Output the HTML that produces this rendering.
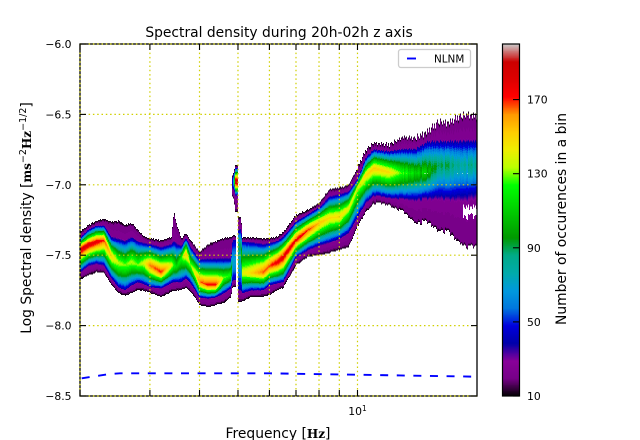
<!DOCTYPE html>
<html lang="en">
<head>
<meta charset="utf-8">
<title>Spectral density during 20h-02h z axis</title>
<style>
  html,body{margin:0;padding:0;background:#fff;}
  body{width:640px;height:440px;overflow:hidden;}
  svg{display:block;}
  text{font-family:"DejaVu Sans","Liberation Sans",sans-serif;fill:#000;}
  .unit{font-family:"DejaVu Serif","Liberation Serif",serif;font-weight:bold;}
</style>
</head>
<body>
<svg id="figure" xmlns="http://www.w3.org/2000/svg" width="640" height="440" viewBox="0 0 640 440">
  <g id="heatmap" shape-rendering="crispEdges"></g>
  <path id="nlnm" fill="none" stroke="#0000ff" stroke-width="1.9" stroke-dasharray="8 8.6"></path>
  <rect x="80" y="44" width="397" height="352" fill="none" stroke="#000" stroke-width="1.3"></rect>
  <g id="grid"></g>
  <g id="ticks"></g>
  <g id="tick-labels"></g>

  <text x="279" y="37" font-size="13.85" text-anchor="middle">Spectral density during 20h-02h z axis</text>
  <text x="278" y="438" font-size="13.85" text-anchor="middle">Frequency [<tspan class="unit" font-size="12">Hz</tspan>]</text>
  <text transform="translate(31,218) rotate(-90)" font-size="13.85" text-anchor="middle">Log Spectral density [<tspan class="unit" font-size="12">ms</tspan><tspan dy="-5" font-size="9.5">−2</tspan><tspan class="unit" dy="5" font-size="12">Hz</tspan><tspan dy="-5" font-size="9.5">−1/2</tspan><tspan dy="5">]</tspan></text>

  <g>
    <rect x="398.5" y="49.5" width="72" height="18" rx="2.5" fill="#fff" stroke="#cccccc" stroke-width="1.3"></rect>
    <line x1="407" y1="58.5" x2="416" y2="58.5" stroke="#0000ff" stroke-width="1.9"></line>
    <text x="434" y="62.5" font-size="10.4">NLNM</text>
  </g>

  <g id="colorbar" shape-rendering="crispEdges"></g>
  <rect x="502.5" y="44" width="17" height="352" fill="none" stroke="#000" stroke-width="1.2"></rect>
  <g id="colorbar-ticks"></g>
  <text transform="translate(566,219) rotate(-90)" font-size="13.85" text-anchor="middle">Number of occurences in a bin</text>
</svg>

<script>
// ---- Chart data (frequency in Hz, density values in log PSD, peak in counts) ----
const freqs = [2.0,2.1,2.2,2.3,2.4,2.5,2.6,2.7,2.8,2.9,3.0,3.2,3.4,3.45,3.5,3.6,3.7,3.8,3.9,4.0,4.2,4.4,4.6,4.8,4.85,4.93,5.0,5.1,5.11,5.4,5.8,6.0,6.3,6.5,7,7.5,8,8.5,9,9.5,10,10.5,11,12,13,14,15,16,17,18,19,20];
const topEdge = [-7.335,-7.286,-7.257,-7.243,-7.264,-7.257,-7.286,-7.271,-7.321,-7.364,-7.378,-7.392,-7.371,-7.193,-7.271,-7.378,-7.342,-7.392,-7.435,-7.477,-7.428,-7.399,-7.378,-7.371,-7.357,-7.357,-7.229,-7.229,-7.371,-7.371,-7.378,-7.378,-7.364,-7.335,-7.214,-7.179,-7.129,-7.030,-7.023,-7.001,-6.881,-6.753,-6.703,-6.717,-6.661,-6.668,-6.625,-6.554,-6.561,-6.518,-6.504,-6.518];
const upperShoulder = [-7.378,-7.321,-7.293,-7.293,-7.378,-7.392,-7.406,-7.378,-7.406,-7.420,-7.428,-7.449,-7.428,-7.413,-7.428,-7.442,-7.378,-7.449,-7.491,-7.534,-7.534,-7.534,-7.534,-7.534,-7.392,-7.392,-7.321,-7.321,-7.406,-7.413,-7.428,-7.420,-7.399,-7.371,-7.264,-7.214,-7.165,-7.087,-7.072,-7.051,-6.966,-6.810,-6.753,-6.767,-6.753,-6.753,-6.703,-6.703,-6.703,-6.703,-6.703,-6.703];
const ridge = [-7.463,-7.428,-7.406,-7.392,-7.506,-7.555,-7.570,-7.548,-7.570,-7.555,-7.570,-7.619,-7.570,-7.570,-7.584,-7.520,-7.484,-7.570,-7.626,-7.690,-7.712,-7.712,-7.662,-7.641,-7.548,-7.548,-7.428,-7.428,-7.626,-7.626,-7.619,-7.577,-7.548,-7.513,-7.392,-7.321,-7.271,-7.236,-7.229,-7.165,-7.016,-6.930,-6.881,-6.909,-6.916,-6.916,-6.909,-6.859,-6.859,-6.859,-6.859,-6.859];
const lowerShoulder = [-7.619,-7.570,-7.555,-7.570,-7.662,-7.726,-7.747,-7.712,-7.690,-7.705,-7.726,-7.733,-7.697,-7.690,-7.690,-7.690,-7.662,-7.697,-7.747,-7.797,-7.804,-7.797,-7.768,-7.733,-7.676,-7.676,-7.747,-7.747,-7.768,-7.747,-7.747,-7.712,-7.697,-7.690,-7.513,-7.463,-7.428,-7.406,-7.378,-7.335,-7.229,-7.122,-7.072,-7.087,-7.094,-7.094,-7.087,-7.072,-7.087,-7.072,-7.072,-7.058];
const bottomEdge = [-7.676,-7.641,-7.619,-7.626,-7.712,-7.768,-7.790,-7.768,-7.747,-7.754,-7.768,-7.797,-7.761,-7.754,-7.754,-7.747,-7.733,-7.761,-7.804,-7.854,-7.868,-7.854,-7.839,-7.797,-7.726,-7.726,-7.832,-7.832,-7.832,-7.797,-7.797,-7.783,-7.747,-7.733,-7.570,-7.513,-7.499,-7.484,-7.463,-7.442,-7.300,-7.193,-7.129,-7.143,-7.193,-7.271,-7.271,-7.321,-7.342,-7.406,-7.449,-7.442];
const peakCount = [185,182,180,170,150,135,130,135,130,140,165,172,140,125,115,125,155,130,145,165,172,172,130,125,70,70,90,90,140,150,168,170,178,180,178,170,155,148,148,142,138,150,152,148,125,115,105,92,85,82,80,80];

// Isolated patch near 5 Hz
const islandFreqs = [4.84,4.89,4.92,5.0];
const islandTop = [-6.94,-6.90,-6.859,-6.859];
const islandUpper = [-6.95,-6.92,-6.88,-6.88];
const islandRidge = [-6.98,-6.98,-6.98,-6.98];
const islandLower = [-7.02,-7.03,-7.072,-7.072];
const islandBottom = [-7.08,-7.108,-7.193,-7.193];
const islandPeak = [45,90,195,195];

const emptyFreqRange = [4.94,4.995];
const emptyPocket = [18.4,20,-7.158,-7.229];
const edgeRoughness = [0.012,-0.021,0.034,-0.008,0.026,-0.03,0.005,0.041,-0.017,0.022,-0.036,0.014,0.03,-0.012,-0.026,0.038,0.003,-0.02,0.018,-0.005,0.028,-0.033,0.009];

// NLNM reference curve
const nlnmFreqs = [2.02,2.25,2.38,2.52,6,7,10,12.8,20];
const nlnmValues = [-8.374,-8.354,-8.344,-8.339,-8.339,-8.342,-8.349,-8.354,-8.363];

// Axis ticks
const xGridFreqs = [2,3,4,5,6,7,8,9,10];
const yTickValues = [-6,-6.5,-7,-7.5,-8,-8.5];
const yTickLabels = ["−6.0","−6.5","−7.0","−7.5","−8.0","−8.5"];
const colorbarTicks = [10,50,90,130,170];
const colorbarLabels = ["10","50","90","130","170"];

// Colormap (nipy_spectral)
const cmapColors = [[0,0,0],[119,0,136],[136,0,153],[0,0,170],[0,0,221],[0,119,221],[0,153,221],[0,170,170],[0,170,136],[0,153,0],[0,187,0],[0,221,0],[0,255,0],[187,255,0],[238,238,0],[255,204,0],[255,153,0],[255,0,0],[221,0,0],[204,0,0],[204,204,204]];
const countMin = 10;
const countMax = 200;

// ---- Scales ----
const NS = "http://www.w3.org/2000/svg";
const plotLeft = 80, plotRight = 477, plotTop = 44, plotBottom = 396;
const decadeSpan = Math.log10(20/2);
function xScale(f){ return plotLeft + (plotRight-plotLeft)*Math.log10(f/2)/decadeSpan; }
function xInvert(x){ return 2*Math.pow(10,(x-plotLeft)/(plotRight-plotLeft)*decadeSpan); }
function yScale(v){ return plotTop + (plotBottom-plotTop)*(-6-v)/2.5; }
function cbarY(c){ return plotBottom - (plotBottom-plotTop)*(c-countMin)/(countMax-countMin); }

function cmap(c){
  const t = Math.max(0,Math.min(1,(c-countMin)/(countMax-countMin)))*(cmapColors.length-1);
  const i = Math.min(cmapColors.length-2,Math.floor(t));
  const u = t-i, a = cmapColors[i], b = cmapColors[i+1];
  return "rgb("+Math.round(a[0]+(b[0]-a[0])*u)+","+Math.round(a[1]+(b[1]-a[1])*u)+","+Math.round(a[2]+(b[2]-a[2])*u)+")";
}
function interp(xs,ys,x){
  if(x<=xs[0]) return ys[0];
  for(let i=1;i<xs.length;i++){
    if(x<=xs[i]){ const u=(x-xs[i-1])/(xs[i]-xs[i-1]); return ys[i-1]+(ys[i]-ys[i-1])*u; }
  }
  return ys[ys.length-1];
}
// Outer skirt: black rim, flat purple, then quick rise to blue
function skirt(w,d){
  if(d<0.018) return 10+9*(d/0.018);
  if(w<0.85) return 19+5*(w/0.85);
  return 24+16*((w-0.85)/0.15);
}
function profile(v,top,upper,mid,lower,bottom,peak){
  if(v>top||v<bottom) return 0;
  if(v>=upper) return skirt((top-v)/Math.max(1e-6,top-upper),top-v);
  if(v<=lower) return skirt((v-bottom)/Math.max(1e-6,lower-bottom),v-bottom);
  const u = Math.min(1, v>=mid ? (upper-v)/Math.max(1e-6,upper-mid) : (v-lower)/Math.max(1e-6,mid-lower));
  return 40+(peak-40)*(0.55*Math.sin(u*Math.PI/2)+0.45*Math.pow(u,1.35));
}

// ---- Heatmap ----
const heatmap = document.getElementById("heatmap");
const binStep = 0.007, colStep = 1, countQuant = 4;
let colIndex = 0;
for(let px=plotLeft; px<plotRight; px+=colStep){
  const f = xInvert(px+colStep/2);
  const inGap = f>emptyFreqRange[0] && f<emptyFreqRange[1];
  const noise = edgeRoughness[colIndex%edgeRoughness.length];
  const noiseLow = edgeRoughness[(colIndex*5+7)%edgeRoughness.length];
  const roughScale = f<10 ? 0.12 : (f<14 ? 0.4 : 0.75);
  const top = interp(freqs,topEdge,f)+noise*roughScale, upper = interp(freqs,upperShoulder,f)+noise*roughScale*0.3, mid = interp(freqs,ridge,f);
  const lower = interp(freqs,lowerShoulder,f)+noiseLow*roughScale*0.3, bottom = interp(freqs,bottomEdge,f)+noiseLow*roughScale*0.6;
  const peak = interp(freqs,peakCount,f)+(f>13 ? noiseLow*180 : 0);
  const hasIsland = f>=islandFreqs[0] && f<=islandFreqs[islandFreqs.length-1];
  let run = null;
  const flush = function(){
    if(!run) return;
    const r = document.createElementNS(NS,"rect");
    r.setAttribute("x",px);
    r.setAttribute("y",yScale(run.hi).toFixed(2));
    r.setAttribute("width",colStep);
    r.setAttribute("height",(yScale(run.lo)-yScale(run.hi)).toFixed(2));
    r.setAttribute("fill",cmap(run.q));
    
    
    heatmap.appendChild(r);
    run = null;
  };
  for(let k=0;k<300;k++){
    const v = -6.4-k*binStep;
    let c = inGap ? 0 : profile(v,top,upper,mid,lower,bottom,peak);
    if(f>emptyPocket[0] && f<emptyPocket[1] && v<emptyPocket[2]+noise*0.6 && v>emptyPocket[3]+noiseLow*0.6) c = 0;
    if(hasIsland){
      const ic = profile(v,interp(islandFreqs,islandTop,f),interp(islandFreqs,islandUpper,f),interp(islandFreqs,islandRidge,f),interp(islandFreqs,islandLower,f),interp(islandFreqs,islandBottom,f),interp(islandFreqs,islandPeak,f));
      if(ic>c) c = ic;
    }
    if(c<=0){ flush(); continue; }
    const q = Math.round(c/countQuant)*countQuant;
    if(run && run.q===q){ run.lo = v-binStep/2; }
    else { flush(); run = {q:q,hi:v+binStep/2,lo:v-binStep/2}; }
  }
  flush();
  colIndex++;
}

// ---- Grid ----
const grid = document.getElementById("grid");
function gridLine(x1,y1,x2,y2,name){
  const l = document.createElementNS(NS,"line");
  l.setAttribute("x1",x1); l.setAttribute("y1",y1); l.setAttribute("x2",x2); l.setAttribute("y2",y2);
  l.setAttribute("stroke","#d0d000");
  l.setAttribute("stroke-width","1.2");
  l.setAttribute("stroke-dasharray","1.5 2.8");
  
  
  grid.appendChild(l);
}
// ---- NLNM ----
document.getElementById("nlnm").setAttribute("d",nlnmFreqs.map(function(f,i){return (i?"L":"M")+xScale(f).toFixed(2)+" "+yScale(nlnmValues[i]).toFixed(2);}).join(" "));

// ---- Ticks ----
const ticks = document.getElementById("ticks");
function tickLine(x1,y1,x2,y2,name,parent){
  const l = document.createElementNS(NS,"line");
  l.setAttribute("x1",x1); l.setAttribute("y1",y1); l.setAttribute("x2",x2); l.setAttribute("y2",y2);
  l.setAttribute("stroke","#000");
  l.setAttribute("stroke-width","1.1");
  
  
  parent.appendChild(l);
}
const tickLabels = document.getElementById("tick-labels");
xGridFreqs.forEach(function(f){
  const x = xScale(f);
  gridLine(x,plotTop,x,plotBottom,"x-grid-line");
  tickLine(x,plotBottom,x,plotBottom-6,"x-tick-bottom",ticks);
  tickLine(x,plotTop,x,plotTop+6,"x-tick-top",ticks);
});
yTickValues.forEach(function(v,i){
  const y = yScale(v);
  gridLine(plotLeft,y,plotRight,y,"y-grid-line");
  tickLine(plotLeft,y,plotLeft+6,y,"y-tick-left",ticks);
  tickLine(plotRight,y,plotRight-6,y,"y-tick-right",ticks);
  const t = document.createElementNS(NS,"text");
  t.setAttribute("x",71.5);
  t.setAttribute("y",y+4);
  t.setAttribute("font-size","10.8");
  t.setAttribute("text-anchor","end");
  
  
  t.textContent = yTickLabels[i];
  tickLabels.appendChild(t);
});
// x major label 10^1
(function(){
  const t = document.createElementNS(NS,"text");
  t.setAttribute("x",xScale(10));
  t.setAttribute("y",415);
  t.setAttribute("font-size","10.8");
  t.setAttribute("text-anchor","middle");
  
  
  const b = document.createElementNS(NS,"tspan");
  b.textContent = "10";
  const s = document.createElementNS(NS,"tspan");
  s.setAttribute("dy","-4");
  s.setAttribute("font-size","7.5");
  s.textContent = "1";
  t.appendChild(b);
  t.appendChild(s);
  tickLabels.appendChild(t);
})();

// ---- Colorbar ----
const colorbar = document.getElementById("colorbar");
for(let c=countMin;c<countMax;c+=0.5){
  const r = document.createElementNS(NS,"rect");
  r.setAttribute("x",503);
  r.setAttribute("y",cbarY(c+0.5).toFixed(2));
  r.setAttribute("width",16);
  r.setAttribute("height",(cbarY(c)-cbarY(c+0.5)+0.3).toFixed(2));
  r.setAttribute("fill",cmap(c+0.25));
  
  
  colorbar.appendChild(r);
}
const cbTicks = document.getElementById("colorbar-ticks");
colorbarTicks.forEach(function(c,i){
  const y = cbarY(c);
  tickLine(513,y,519,y,"colorbar-tick",cbTicks);
  const t = document.createElementNS(NS,"text");
  t.setAttribute("x",527);
  t.setAttribute("y",y+4);
  t.setAttribute("font-size","10.8");
  
  
  t.textContent = colorbarLabels[i];
  cbTicks.appendChild(t);
});
</script>
</body>
</html>
